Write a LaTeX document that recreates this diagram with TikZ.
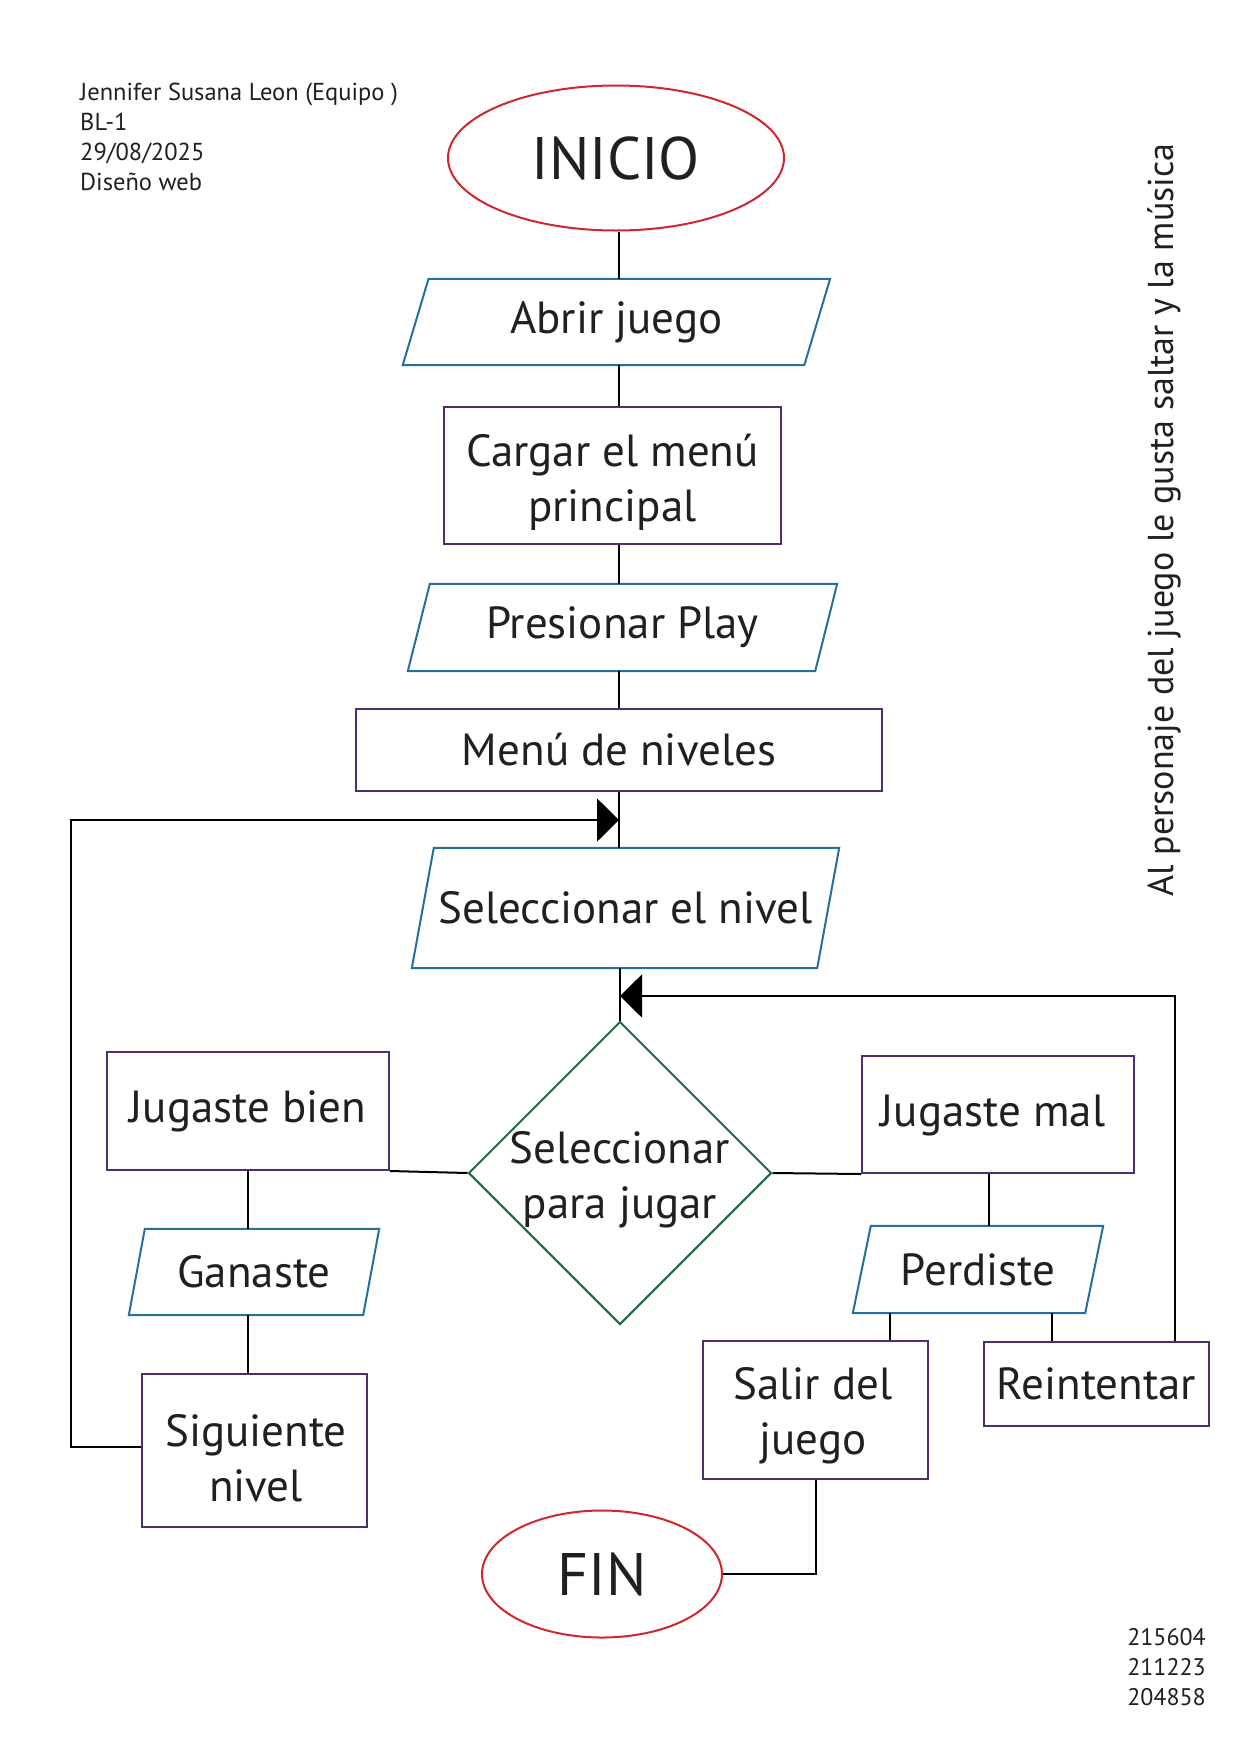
\documentclass[tikz,border=0pt]{standalone}
\usepackage{fontspec}
\setmainfont{PT Sans}
\usetikzlibrary{shapes.geometric,arrows.meta,calc}
\definecolor{cred}{HTML}{D0262D}
\definecolor{cblue}{HTML}{2370A0}
\definecolor{cpurple}{HTML}{4E2E6E}
\definecolor{cgreen}{HTML}{1E6B3E}
\definecolor{ctext}{HTML}{231F20}
\newcommand{\parabox}[2]{%
  \draw[cblue,line width=2pt] ($(#1.north west)+(#2,0)$) -- (#1.north east) -- ($(#1.south east)-(#2,0)$) -- (#1.south west) -- cycle;}
\begin{document}
\begin{tikzpicture}[x=1pt,y=-1pt,
  every node/.style={text=ctext},
  lbl/.style={font=\fontsize{45}{55}\selectfont, align=center, inner sep=0pt},
  term/.style={ellipse, draw=cred, line width=2pt, inner sep=0pt, font=\fontsize{60}{66}\selectfont},
  procbox/.style={lbl, draw=cpurple, line width=2pt},
  iobox/.style={lbl},
  decbox/.style={lbl, diamond, draw=cgreen, line width=2pt},
  conn/.style={line width=2pt, draw=black},
  arr/.style={conn, -{Triangle[length=22pt,width=43pt]}},
  small/.style={font=\fontsize{24.5}{30}\selectfont, align=left, inner sep=0pt}
]
\useasboundingbox (0,0) rectangle (1241,1754);
\fill[white] (0,0) rectangle (1241,1754);

% header text
\node[small, anchor=north west] (hdr) at (80,83) {Jennifer Susana Leon (Equipo )\\BL-1\\29/08/2025\\Diseño web};
\node[small, anchor=north east, align=left, font=\fontsize{24}{30}\selectfont] (nums) at (1206,1628) {215604\\211223\\204858};
\node[rotate=90, inner sep=0pt, font=\fontsize{36}{40}\selectfont] (side) at (1164,520) {Al personaje del juego le gusta saltar y la música};

% nodes
\node[term, minimum width=336pt, minimum height=145pt] (inicio) at (616,158) {INICIO};
\node[iobox, minimum width=427pt, minimum height=86pt] (abrir) at (616.4,322) {Abrir juego};
\node[procbox, minimum width=337pt, minimum height=137pt] (cargar) at (612.5,475.5) {};
\node[lbl] (cargartxt) at (612.5,482) {Cargar el menú\\principal};
\node[iobox, minimum width=429pt, minimum height=87pt] (presionar) at (622.5,627.5) {Presionar Play};
\node[procbox, minimum width=526pt, minimum height=82pt] (menu) at (619,750) {Menú de niveles};
\node[iobox, minimum width=427pt, minimum height=120pt] (selnivel) at (625.5,908) {Seleccionar el nivel};
\node[decbox, minimum width=303pt, minimum height=303pt, aspect=1] (dec) at (620,1173) {};
\node[lbl] (dectxt) at (620,1180) {Seleccionar\\para jugar};
\node[procbox, minimum width=282pt, minimum height=118pt] (jbien) at (248,1111) {Jugaste bien};
\node[iobox, minimum width=250pt, minimum height=86pt] (ganaste) at (254,1272) {Ganaste};
\node[procbox, minimum width=225pt, minimum height=153pt] (sig) at (254.5,1450.5) {};
\node[lbl] (sigtxt) at (256,1458) {Siguiente\\nivel};
\node[procbox, minimum width=272pt, minimum height=117pt] (jmal) at (998,1114.5) {};
\node[lbl] (jmaltxt) at (993,1116) {Jugaste mal};
\node[iobox, minimum width=250pt, minimum height=87pt] (perdiste) at (978,1269.5) {Perdiste};
\node[procbox, minimum width=225pt, minimum height=138pt] (salir) at (815.5,1410) {};
\node[lbl] (salirtxt) at (813,1416) {Salir del\\juego};
\node[procbox, minimum width=225pt, minimum height=84pt] (reint) at (1096.5,1384) {Reintentar};
\node[term, minimum width=240pt, minimum height=127pt] (fin) at (602,1574) {FIN};

% parallelogram outlines
\parabox{abrir}{25.8}
\parabox{presionar}{22}
\parabox{selnivel}{22}
\parabox{ganaste}{16}
\parabox{perdiste}{18}

% spine
\coordinate (sp) at (619,0);
\coordinate (j1) at (619,820);
\coordinate (j2) at (620,996);
\coordinate (lx) at (70.5,0);
\coordinate (ly) at (0,1447);
\coordinate (rx) at (1175,0);

\draw[conn] (inicio.south -| sp) -- (abrir.north -| sp);
\draw[conn] (abrir.south -| sp) -- (cargar.north -| sp);
\draw[conn] (cargar.south -| sp) -- (presionar.north -| sp);
\draw[conn] (presionar.south -| sp) -- (menu.north -| sp);
\draw[conn] (menu.south -| sp) -- (selnivel.north -| sp);
\draw[conn] (selnivel.south -| dec.north) -- (dec.north);

% left branch
\draw[conn] (jbien.south east) -- (dec.west);
\draw[conn] (jbien.south) -- (ganaste.north -| jbien.south);
\draw[conn] (ganaste.south -| jbien.south) -- (sig.north -| jbien.south);
\draw[arr] (sig.west |- ly) -- (lx |- ly) -- (lx |- j1) -- (j1);

% right branch
\draw[conn] (dec.east) -- (jmal.south west);
\coordinate (pm) at (989,0);
\draw[conn] (jmal.south -| pm) -- (perdiste.north -| pm);
\coordinate (ps) at (890,0);
\coordinate (pr) at (1052,0);
\draw[conn] (perdiste.south -| ps) -- (salir.north -| ps);
\draw[conn] (perdiste.south -| pr) -- (reint.north -| pr);
\draw[arr] (reint.north -| rx) -- (rx |- j2) -- (j2);
\draw[conn] (salir.south) |- (fin.east);
\end{tikzpicture}
\end{document}
